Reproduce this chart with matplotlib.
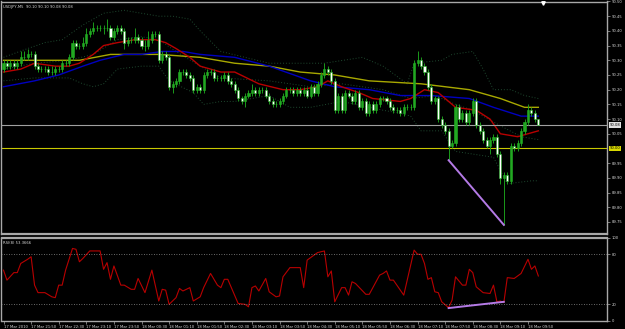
import numpy as np
import matplotlib.pyplot as plt

# USDJPY M5 candles
first_open = 90.27
closes = [90.29, 90.28, 90.29, 90.28, 90.29, 90.31, 90.31, 90.32, 90.32, 90.28,
          90.27, 90.27, 90.27, 90.26, 90.26, 90.27, 90.27, 90.29, 90.29, 90.31,
          90.36, 90.35, 90.35, 90.36, 90.39, 90.40, 90.41, 90.41, 90.41, 90.41,
          90.41, 90.38, 90.40, 90.41, 90.40, 90.36, 90.37, 90.37, 90.38, 90.37,
          90.35, 90.35, 90.37, 90.39, 90.39, 90.30, 90.32, 90.31, 90.21, 90.22,
          90.23, 90.26, 90.26, 90.25, 90.24, 90.20, 90.21, 90.20, 90.25, 90.26,
          90.26, 90.24, 90.24, 90.24, 90.25, 90.23, 90.22, 90.20, 90.17, 90.16,
          90.18, 90.19, 90.20, 90.19, 90.20, 90.20, 90.18, 90.16, 90.15, 90.15,
          90.16, 90.18, 90.20, 90.20, 90.19, 90.20, 90.19, 90.20, 90.18, 90.21,
          90.19, 90.22, 90.25, 90.27, 90.26, 90.23, 90.13, 90.18, 90.13, 90.19,
          90.18, 90.16, 90.19, 90.14, 90.16, 90.12, 90.15, 90.13, 90.15, 90.17,
          90.17, 90.16, 90.14, 90.13, 90.13, 90.12, 90.14, 90.14, 90.14, 90.29,
          90.30, 90.28, 90.26, 90.21, 90.16, 90.17, 90.10, 90.08, 90.06, 90.01,
          90.02, 90.14, 90.10, 90.12, 90.09, 90.12, 90.16, 90.08, 90.06, 90.03,
          90.01, 90.03, 90.04, 89.98, 89.90, 89.91, 89.89, 90.01, 90.00, 90.02,
          90.06, 90.09, 90.13, 90.12, 90.10, 90.08]
highs = [90.30, 90.30, 90.30, 90.30, 90.30, 90.33, 90.33, 90.34, 90.33, 90.33,
         90.29, 90.28, 90.28, 90.28, 90.28, 90.28, 90.28, 90.30, 90.30, 90.32,
         90.37, 90.37, 90.36, 90.38, 90.41, 90.41, 90.43, 90.42, 90.42, 90.42,
         90.44, 90.42, 90.41, 90.42, 90.42, 90.41, 90.38, 90.38, 90.41, 90.39,
         90.38, 90.37, 90.40, 90.40, 90.40, 90.40, 90.33, 90.33, 90.32, 90.23,
         90.24, 90.27, 90.27, 90.27, 90.26, 90.25, 90.22, 90.22, 90.26, 90.27,
         90.27, 90.27, 90.25, 90.25, 90.26, 90.26, 90.24, 90.23, 90.21, 90.18,
         90.19, 90.20, 90.22, 90.21, 90.21, 90.21, 90.21, 90.19, 90.17, 90.16,
         90.17, 90.19, 90.21, 90.21, 90.21, 90.21, 90.21, 90.21, 90.21, 90.22,
         90.22, 90.23, 90.26, 90.29, 90.28, 90.27, 90.24, 90.19, 90.19, 90.20,
         90.20, 90.19, 90.20, 90.20, 90.17, 90.17, 90.16, 90.16, 90.16, 90.18,
         90.18, 90.18, 90.17, 90.15, 90.14, 90.14, 90.15, 90.15, 90.15, 90.30,
         90.33, 90.31, 90.29, 90.27, 90.22, 90.18, 90.18, 90.11, 90.09, 90.07,
         90.03, 90.15, 90.15, 90.13, 90.13, 90.13, 90.17, 90.17, 90.09, 90.07,
         90.04, 90.04, 90.05, 90.05, 89.99, 89.92, 89.92, 90.02, 90.02, 90.03,
         90.07, 90.10, 90.15, 90.14, 90.13, 90.10]
lows = [90.26, 90.27, 90.27, 90.27, 90.27, 90.28, 90.30, 90.30, 90.31, 90.27,
        90.26, 90.26, 90.26, 90.25, 90.25, 90.25, 90.26, 90.26, 90.28, 90.28,
        90.30, 90.34, 90.34, 90.34, 90.35, 90.38, 90.39, 90.40, 90.40, 90.39,
        90.40, 90.37, 90.37, 90.39, 90.39, 90.34, 90.35, 90.36, 90.36, 90.36,
        90.34, 90.33, 90.34, 90.36, 90.38, 90.29, 90.29, 90.30, 90.20, 90.19,
        90.21, 90.22, 90.25, 90.24, 90.23, 90.19, 90.19, 90.19, 90.19, 90.24,
        90.25, 90.23, 90.23, 90.23, 90.23, 90.22, 90.21, 90.19, 90.16, 90.15,
        90.14, 90.17, 90.18, 90.18, 90.18, 90.19, 90.17, 90.15, 90.14, 90.14,
        90.14, 90.15, 90.17, 90.19, 90.18, 90.18, 90.18, 90.18, 90.17, 90.17,
        90.18, 90.18, 90.21, 90.24, 90.25, 90.22, 90.12, 90.12, 90.12, 90.12,
        90.17, 90.15, 90.15, 90.13, 90.13, 90.11, 90.11, 90.12, 90.12, 90.14,
        90.16, 90.15, 90.13, 90.12, 90.12, 90.11, 90.11, 90.13, 90.13, 90.13,
        90.28, 90.27, 90.25, 90.20, 90.15, 90.15, 90.09, 90.07, 90.05, 89.96,
        90.00, 90.01, 90.09, 90.09, 90.08, 90.08, 90.11, 90.07, 90.05, 90.02,
        90.00, 89.98, 90.02, 89.97, 89.88, 89.74, 89.88, 89.88, 89.99, 89.99,
        90.01, 90.05, 90.08, 90.11, 90.09, 90.08]
opens = [first_open] + closes[:-1]

# indicator lines (bar index, value)
ma_yellow_idx = [0, 22, 31, 40, 45, 57, 67, 77, 86, 96, 106, 121, 135, 144, 151, 155]
ma_yellow_val = [90.30, 90.30, 90.32, 90.32, 90.32, 90.31, 90.29, 90.28, 90.26, 90.25,
                 90.23, 90.22, 90.20, 90.17, 90.14, 90.14]
ma_blue_idx = [0, 9, 16, 23, 28, 35, 40, 46, 52, 57, 67, 77, 89, 96, 106, 115, 124, 135, 142, 150, 155]
ma_blue_val = [90.21, 90.23, 90.25, 90.28, 90.30, 90.32, 90.32, 90.33, 90.33, 90.32, 90.31,
               90.28, 90.23, 90.21, 90.20, 90.18, 90.18, 90.17, 90.14, 90.11, 90.11]
ma_red_idx = [0, 5, 9, 15, 19, 22, 26, 29, 33, 38, 44, 47, 50, 54, 57, 63, 67, 74, 81, 86,
              91, 94, 98, 103, 107, 115, 118, 122, 126, 131, 137, 141, 144, 149, 152, 155]
ma_red_val = [90.26, 90.27, 90.29, 90.28, 90.28, 90.29, 90.32, 90.35, 90.36, 90.37, 90.37,
              90.36, 90.34, 90.31, 90.28, 90.26, 90.26, 90.22, 90.20, 90.20, 90.21, 90.23,
              90.21, 90.19, 90.17, 90.16, 90.17, 90.20, 90.19, 90.14, 90.13, 90.10, 90.05,
              90.04, 90.05, 90.06]
bb_up_idx = [0, 7, 12, 17, 23, 29, 35, 45, 49, 54, 57, 63, 77, 93, 104, 110, 117, 119,
             127, 130, 136, 139, 142, 147, 151, 155]
bb_up_val = [90.31, 90.34, 90.36, 90.37, 90.42, 90.46, 90.47, 90.45, 90.45, 90.44, 90.40,
             90.33, 90.29, 90.29, 90.31, 90.28, 90.22, 90.29, 90.30, 90.32, 90.33, 90.27,
             90.20, 90.20, 90.18, 90.17]
bb_mid_idx = [0, 9, 19, 26, 33, 40, 45, 50, 57, 63, 77, 89, 98, 110, 118, 125, 131, 136,
              142, 150, 155]
bb_mid_val = [90.27, 90.29, 90.30, 90.32, 90.37, 90.38, 90.37, 90.33, 90.28, 90.24, 90.23,
              90.21, 90.22, 90.20, 90.17, 90.18, 90.15, 90.13, 90.09, 90.04, 90.03]
bb_lo_idx = [0, 9, 19, 23, 26, 29, 33, 40, 45, 48, 55, 58, 63, 67, 77, 83, 89, 98, 110,
             115, 118, 121, 127, 131, 142, 146, 153, 155]
bb_lo_val = [90.23, 90.24, 90.24, 90.22, 90.21, 90.22, 90.27, 90.28, 90.28, 90.23, 90.19,
             90.15, 90.16, 90.16, 90.18, 90.14, 90.14, 90.16, 90.13, 90.12, 90.11, 90.06,
             90.06, 89.99, 89.97, 89.88, 89.89, 89.89]

# RSI(8) (bar index, value)
rsi_idx = [0, 1, 3, 4, 5, 7, 8, 9, 10, 12, 14, 15, 16, 17, 18, 20, 21, 22, 23, 25, 28, 29,
           30, 31, 32, 34, 35, 37, 38, 39, 41, 43, 45, 46, 47, 48, 50, 51, 52, 54, 55, 57,
           58, 60, 62, 63, 64, 65, 68, 70, 71, 72, 73, 74, 76, 77, 79, 80, 81, 83, 86, 87,
           88, 91, 92, 93, 94, 95, 96, 98, 99, 100, 101, 102, 105, 106, 109, 110, 111, 112,
           113, 116, 117, 119, 120, 121, 122, 123, 124, 125, 126, 127, 129, 130, 131, 133,
           134, 135, 136, 137, 139, 141, 142, 143, 144, 145, 146, 148, 150, 152, 153, 154, 155]
rsi_val = [61, 49, 58, 58, 69, 74, 77, 43, 34, 34, 29, 28, 43, 43, 61, 87, 86, 71, 75, 84,
           84, 62, 70, 50, 66, 43, 43, 38, 38, 51, 34, 61, 24, 38, 37, 20, 28, 39, 36, 40,
           24, 29, 40, 57, 43, 40, 50, 50, 21, 20, 17, 40, 42, 36, 51, 35, 29, 30, 53, 64,
           64, 40, 73, 82, 83, 84, 53, 60, 23, 40, 40, 31, 47, 45, 32, 32, 55, 57, 60, 49,
           49, 31, 49, 85, 80, 80, 69, 50, 52, 35, 34, 23, 16, 25, 53, 43, 43, 62, 58, 41,
           34, 33, 43, 23, 24, 22, 52, 51, 57, 74, 62, 66, 54]

# divergence lines drawn by the trader
div_price_idx = [129, 145]
div_price_val = [89.96, 89.74]
div_rsi_idx = [129, 145]
div_rsi_val = [15.5, 23]

price_ticks = [90.50, 90.45, 90.40, 90.35, 90.30, 90.25, 90.20, 90.15, 90.10, 90.05,
               89.95, 89.90, 89.85, 89.80, 89.75]
rsi_ticks = [0, 20, 80, 100]
time_idx = [0, 8, 16, 24, 32, 40, 48, 56, 64, 72, 80, 88, 96, 104, 112, 120, 128, 136, 144, 152]
time_labels = ['17 Mar 2010', '17 Mar 21:50', '17 Mar 22:30', '17 Mar 23:10', '17 Mar 23:50',
               '18 Mar 00:30', '18 Mar 01:10', '18 Mar 01:50', '18 Mar 02:30', '18 Mar 03:10',
               '18 Mar 03:50', '18 Mar 04:30', '18 Mar 05:10', '18 Mar 05:50', '18 Mar 06:30',
               '18 Mar 07:10', '18 Mar 07:50', '18 Mar 08:30', '18 Mar 09:10', '18 Mar 09:50']

W, H = 625, 329
frame = '#a8a8a8'
txt = '#d8d8d8'
fs = 2.7

fig = plt.figure(figsize=(W / 100, H / 100), dpi=100, facecolor='black')
ax = fig.add_axes([1.5 / W, 1 - 234 / H, 605.5 / W, 232.5 / H], facecolor='black')
ax2 = fig.add_axes([1.5 / W, 1 - 321 / H, 605.5 / W, 83.4 / H], facecolor='black', sharex=ax)

x = np.arange(len(closes))
o = np.array(opens)
c = np.array(closes)
up = c >= o

# bollinger + moving averages
for ix, v in [(bb_up_idx, bb_up_val), (bb_mid_idx, bb_mid_val), (bb_lo_idx, bb_lo_val)]:
    ax.plot(ix, v, color='#1f4a30', lw=0.7, ls=(0, (1, 2)), zorder=1)
ax.plot(ma_yellow_idx, ma_yellow_val, color='#a8a800', lw=1.0, zorder=2)
ax.plot(ma_blue_idx, ma_blue_val, color='#0000c0', lw=1.0, zorder=2)
ax.plot(ma_red_idx, ma_red_val, color='#b80000', lw=1.0, zorder=2)

# candles
ax.vlines(x, lows, highs, color='#1a9a1a', lw=0.7, zorder=3)
ax.bar(x[up], (c - o)[up], bottom=o[up], width=0.6, color='#22a822',
       edgecolor='#22b022', lw=0.4, zorder=4)
ax.bar(x[~up], (o - c)[~up], bottom=c[~up], width=0.6, color='white',
       edgecolor='#22b022', lw=0.4, zorder=4)

ax.axhline(90.08, color='#a0a0a0', lw=0.8, zorder=2)
ax.axhline(90.00, color='#c8c800', lw=0.8, zorder=2)
ax.plot(div_price_idx, div_price_val, color='#b47ae6', lw=1.4, zorder=5)

ax.set_xlim(-0.58, 174.9)
ax.set_ylim(89.709, 90.50)
ax.set_yticks(price_ticks)
ax.set_yticklabels(['%.2f' % p for p in price_ticks])
ax.yaxis.tick_right()
ax.tick_params(axis='y', length=2, width=0.5, color=frame, labelsize=fs, labelcolor=txt, pad=1.5)
ax.tick_params(axis='x', bottom=False, labelbottom=False)
for s in ax.spines.values():
    s.set_color(frame)
    s.set_linewidth(1.0)
ax.spines['bottom'].set_linewidth(1.6)

ax.text(0.003, 0.985, 'USDJPY,M5  90.10 90.10 90.08 90.08', transform=ax.transAxes,
        fontsize=fs, color=txt, va='top', ha='left')
ax.text(1.004, 90.08, '90.08', transform=ax.get_yaxis_transform(), fontsize=fs,
        color='black', va='center', ha='left',
        bbox=dict(facecolor='#e0e0e0', edgecolor='none', pad=0.5))
ax.text(1.004, 90.00, '90.00', transform=ax.get_yaxis_transform(), fontsize=fs,
        color='black', va='center', ha='left',
        bbox=dict(facecolor='#d8d800', edgecolor='none', pad=0.5))
ax.plot([156.3], [0.995], marker='v', color='white', ms=2.5,
        transform=ax.get_xaxis_transform(), clip_on=False, zorder=6)

# RSI panel
ax2.plot(rsi_idx, rsi_val, color='#b80000', lw=0.8)
ax2.axhline(80, color='#909090', lw=0.6, ls=(0, (1, 2)))
ax2.axhline(20, color='#909090', lw=0.6, ls=(0, (1, 2)))
ax2.plot(div_rsi_idx, div_rsi_val, color='#b47ae6', lw=1.4)
ax2.set_ylim(0, 100)
ax2.set_yticks(rsi_ticks)
ax2.set_yticklabels([str(t) for t in rsi_ticks])
ax2.yaxis.tick_right()
ax2.tick_params(axis='y', length=2, width=0.5, color=frame, labelsize=fs, labelcolor=txt, pad=1.5)
ax2.set_xticks(time_idx)
ax2.set_xticklabels(time_labels, ha='left')
ax2.tick_params(axis='x', length=2, width=0.5, color=frame, labelsize=fs, labelcolor=txt, pad=0.8)
for s in ax2.spines.values():
    s.set_color(frame)
    s.set_linewidth(1.0)
ax2.spines['top'].set_linewidth(1.6)
ax2.text(0.003, 0.96, 'RSI(8) 53.3666', transform=ax2.transAxes, fontsize=fs,
         color=txt, va='top', ha='left')

fig.savefig('out.png', dpi=100, facecolor='black')
